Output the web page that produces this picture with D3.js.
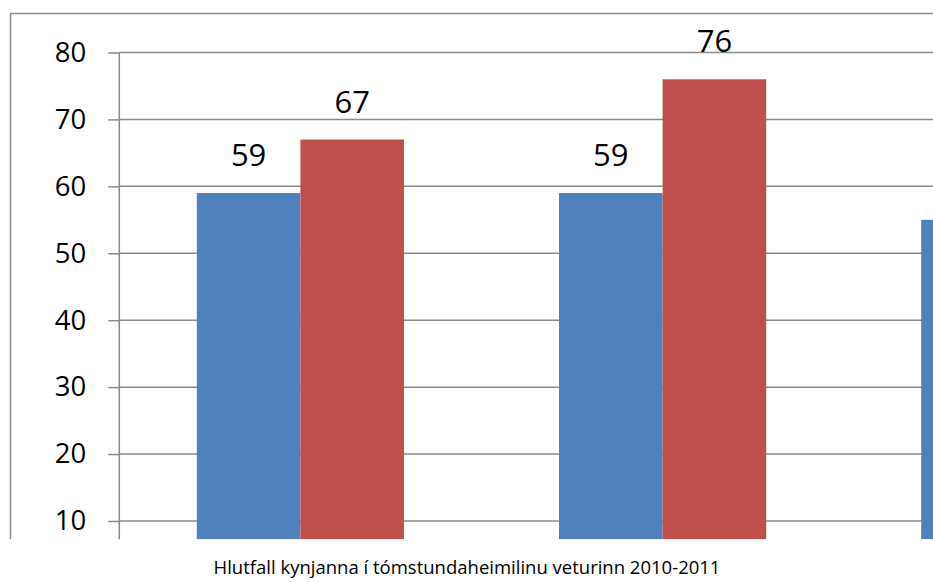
<!DOCTYPE html>
<html>
<head>
<meta charset="utf-8">
<script src="https://cdn.jsdelivr.net/npm/d3@7"></script>
<style>
html,body{margin:0;padding:0;background:#fff;}
svg{display:block;}
</style>
</head>
<body>
<svg id="chart" width="933" height="582"></svg>
<script>
const categories = ["A", "B", "C"];
const seriesNames = ["Strákar", "Stelpur"];
const blueValues = [59, 59, 55];
const redValues = [67, 76, null];
const yTicks = [10, 20, 30, 40, 50, 60, 70, 80];
const caption = "Hlutfall kynjanna í tómstundaheimilinu veturinn 2010-2011";
const colors = ["#4F81BD", "#C0504D"];

const W = 933, H = 582;
const svg = d3.select("#chart");

const plot = {left: 119.3, right: 933, top: 13, bottom: 539.3};

const y = d3.scaleLinear().domain([0, 80]).range([587.9, 52.5]);

const step = 362.2;
const x0 = d3.scaleBand()
  .domain(categories)
  .range([plot.left, plot.left + step * categories.length])
  .paddingInner(0.428)
  .paddingOuter(0.214);
const x1 = d3.scaleBand().domain(seriesNames).range([0, x0.bandwidth()]);

// outer border (chart area frame)
svg.append("path")
  .attr("d", `M10.5,${plot.bottom} L10.5,13.5 L${W},13.5`)
  .attr("fill", "none").attr("stroke", "#8c8c8c").attr("stroke-width", 1.5);

svg.append("clipPath").attr("id", "pc").append("rect")
  .attr("x", plot.left).attr("y", 0).attr("width", plot.right - plot.left).attr("height", plot.bottom);

// gridlines
const grid = svg.append("g");
grid.selectAll("line").data(yTicks).join("line")
  .attr("x1", plot.left).attr("x2", W)
  .attr("y1", d => y(d)).attr("y2", d => y(d))
  .attr("stroke", "#8a8a8a").attr("stroke-width", 1.5);

// y axis
const yAxis = d3.axisLeft(y).tickValues(yTicks).tickSize(11).tickPadding(22).tickFormat(d3.format("d"));
const ya = svg.append("g").attr("transform", `translate(${plot.left},0)`).call(yAxis);
ya.select(".domain").remove();
ya.selectAll(".tick line").attr("stroke", "#8a8a8a").attr("stroke-width", 1.5);
ya.selectAll(".tick text").attr("font-family", "'Open Sans', sans-serif").attr("font-size", 27.5)
  .attr("font-weight", 500).attr("fill", "#000");
svg.append("line").attr("x1", plot.left).attr("x2", plot.left).attr("y1", y(80)).attr("y2", plot.bottom)
  .attr("stroke", "#8a8a8a").attr("stroke-width", 1.5);

// bars
const rows = categories.map((c, i) => ({c, vals: [blueValues[i], redValues[i]]}));
const bars = svg.append("g").attr("clip-path", "url(#pc)");
const labels = svg.append("g");
rows.forEach(r => {
  r.vals.forEach((v, j) => {
    if (v == null) return;
    const bx = x0(r.c) + x1(seriesNames[j]);
    bars.append("rect")
      .attr("x", bx).attr("y", y(v))
      .attr("width", x1.bandwidth()).attr("height", plot.bottom - y(v))
      .attr("fill", colors[j]);
    const cx = bx + x1.bandwidth() / 2;
    if (cx + 20 > W) return; // label lies outside the visible area
    labels.append("text")
      .attr("x", cx).attr("y", y(v) - 27)
      .attr("text-anchor", "middle")
      .attr("font-family", "'Open Sans', sans-serif").attr("font-size", 31).attr("font-weight", 500)
      .attr("fill", "#000").text(v);
  });
});

// caption
svg.append("text").attr("x", 467).attr("y", 573.5).attr("text-anchor", "middle")
  .attr("font-family", "'Open Sans', sans-serif").attr("font-size", 18.5).attr("fill", "#000")
  .text(caption);
</script>
</body>
</html>
